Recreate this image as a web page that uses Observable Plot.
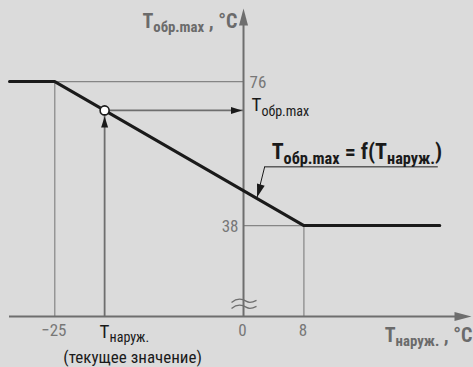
<!DOCTYPE html>
<html>
<head>
<meta charset="utf-8">
<script src="https://cdn.jsdelivr.net/npm/d3@7"></script>
<script src="https://cdn.jsdelivr.net/npm/@observablehq/plot@0.6"></script>
<style>
  html, body { margin: 0; padding: 0; background: #dbdbdb; }
  #chart svg { display: block; }
</style>
</head>
<body>
<div id="chart"></div>
<script>
// Heating characteristic: max return temperature as a function of outdoor temperature
const outdoorTemp = [-31, -25, 8, 26];   // °C, breakpoints of the curve
const returnMaxTemp = [76, 76, 38, 38];  // °C
const xTickValues = [-25, 0, 8];
const yTickValues = [76, 38];
const currentOutdoor = -18.4;            // current outdoor temperature
const currentReturn = 68.4;              // resulting max return temperature
const formulaAnchor = {x: 2.8, y: 53.5, x2: 25.8};
const formulaTarget = {x: 1.8, y: 45.5};
const axisBreakAt = 17.2;

const xLo = -31, xHi = 30.2, yLo = 14, yHi = 95.3;
const font = "'Liberation Sans Narrow', 'Arial Narrow', 'Roboto Condensed', 'DejaVu Sans Condensed', sans-serif";
const axisGray = "#6e6e6e";
const guideGray = "#858585";
const ink = "#1a1a1a";

const curve = outdoorTemp.map((x, i) => ({x, y: returnMaxTemp[i]}));
const corners = curve.slice(1, 3);

// filled arrowhead, tip at origin, pointing along angle (deg, clockwise from up)
function arrowHead(len, wid, angle) {
  const a = angle * Math.PI / 180;
  const dx = Math.sin(a), dy = -Math.cos(a);
  const px = Math.cos(a), py = Math.sin(a);
  return {
    draw(ctx) {
      ctx.moveTo(0, 0);
      ctx.lineTo(-len * dx + wid / 2 * px, -len * dy + wid / 2 * py);
      ctx.lineTo(-len * dx - wid / 2 * px, -len * dy - wid / 2 * py);
      ctx.closePath();
    }
  };
}

// two wavy strokes marking the broken vertical axis
const breakSymbol = {
  draw(ctx) {
    for (const o of [-3, 3]) {
      ctx.moveTo(-12, o + 1);
      ctx.bezierCurveTo(-6, o - 4, 0, o - 2, 3, o);
      ctx.bezierCurveTo(6, o + 2, 9, o + 1, 13, o - 1);
    }
  }
};

const fmtTick = d => d < 0 ? `\u2212${-d}` : `${d}`;

const plot = Plot.plot({
  width: 473,
  height: 367,
  marginLeft: 9,
  marginRight: 2,
  marginTop: 8,
  marginBottom: 51,
  x: {domain: [xLo, xHi], axis: null},
  y: {domain: [yLo, yHi], axis: null},
  style: {background: "#dbdbdb", fontFamily: font, overflow: "visible"},
  marks: [
    // guide lines to the curve breakpoints
    Plot.ruleY(corners, {y: "y", x1: "x", x2: 0, stroke: guideGray, strokeWidth: 1.2}),
    Plot.ruleX(corners, {x: "x", y1: yLo, y2: "y", stroke: guideGray, strokeWidth: 1.2}),
    // axes
    Plot.ruleY([yLo], {x1: xLo, x2: xHi - 1, stroke: axisGray, strokeWidth: 2}),
    Plot.ruleX([0], {y1: yLo, y2: yHi - 3, stroke: axisGray, strokeWidth: 2}),
    Plot.dot([[xHi, yLo]], {x: d => d[0], y: d => d[1], symbol: arrowHead(17, 9, 90), fill: axisGray, stroke: "none"}),
    Plot.dot([[0, yHi]], {x: d => d[0], y: d => d[1], symbol: arrowHead(17, 9, 0), fill: axisGray, stroke: "none"}),
    Plot.dot([[0, axisBreakAt]], {x: d => d[0], y: d => d[1], symbol: breakSymbol, fill: "none", stroke: axisGray, strokeWidth: 1.3}),
    // current value arrows
    Plot.ruleX([currentOutdoor], {y1: yLo, y2: currentReturn, stroke: axisGray, strokeWidth: 1.8}),
    Plot.ruleY([currentReturn], {x1: currentOutdoor, x2: 0, stroke: axisGray, strokeWidth: 1.8}),
    Plot.dot([[currentOutdoor, currentReturn]], {x: d => d[0], y: d => d[1], dy: 6, symbol: arrowHead(11, 7, 0), fill: ink, stroke: "none"}),
    Plot.dot([[0, currentReturn]], {x: d => d[0], y: d => d[1], dx: -1.5, symbol: arrowHead(11, 7, 90), fill: ink, stroke: "none"}),
    // the characteristic
    Plot.line(curve, {x: "x", y: "y", stroke: ink, strokeWidth: 3}),
    Plot.dot([[currentOutdoor, currentReturn]], {x: d => d[0], y: d => d[1], r: 4.5, fill: "white", stroke: ink, strokeWidth: 1.6}),
    // formula callout
    Plot.ruleY([formulaAnchor], {y: "y", x1: "x", x2: "x2", stroke: ink, strokeWidth: 1}),
    Plot.link([formulaAnchor], {x1: "x", y1: "y", x2: () => formulaTarget.x, y2: () => formulaTarget.y, stroke: ink, strokeWidth: 1}),
    Plot.dot([formulaTarget], {x: "x", y: "y", symbol: arrowHead(13, 8, 196.7), fill: ink, stroke: "none"}),
    Plot.text([formulaAnchor], {x: "x", y: "y", text: () => "T_{обр.max} = f(T_{наруж.})", textAnchor: "start", lineAnchor: "bottom", dx: 7, dy: -8, fontSize: 22, fontWeight: "bold", fill: ink}),
    // tick labels
    Plot.text(xTickValues, {x: d => d, text: fmtTick, frameAnchor: "bottom", lineAnchor: "bottom", textAnchor: "middle", dy: 19, dx: -1, fontSize: 17, fill: "#777"}),
    Plot.text(yTickValues.filter(d => d === 76), {x: 0, y: d => d, text: fmtTick, textAnchor: "start", lineAnchor: "bottom", dx: 6, dy: 6, fontSize: 17, fill: "#777"}),
    Plot.text(yTickValues.filter(d => d === 38), {x: 0, y: d => d, text: fmtTick, textAnchor: "end", lineAnchor: "bottom", dx: -5, dy: 6, fontSize: 17, fill: "#777"}),
    // axis titles
    Plot.text(["T_{обр.max} , °C"], {x: 0, frameAnchor: "top", textAnchor: "end", lineAnchor: "bottom", dx: -6, dy: 19, fontSize: 20, fontWeight: "bold", fill: "#6b6b6b"}),
    Plot.text(["T_{наруж.} , °C"], {frameAnchor: "bottom-right", textAnchor: "end", lineAnchor: "bottom", dx: 1, dy: 25, fontSize: 20, fontWeight: "bold", fill: "#6b6b6b"}),
    // current value labels
    Plot.text(["T_{обр.max}"], {x: 0, y: currentReturn, textAnchor: "start", lineAnchor: "bottom", dx: 8, dy: 1, fontSize: 19, fill: ink}),
    Plot.text(["T_{наруж.}"], {x: currentOutdoor, frameAnchor: "bottom", textAnchor: "start", lineAnchor: "bottom", dx: -5, dy: 21, fontSize: 19, fill: ink}),
    Plot.text(["(текущее значение)"], {x: currentOutdoor, frameAnchor: "bottom", textAnchor: "middle", lineAnchor: "bottom", dx: 28, dy: 46, fontSize: 17, fill: ink})
  ]
});

// turn "_{...}" markup into lowered, smaller tspans
function applySubscripts(svg, ratio = 0.74, shift = 0.33) {
  d3.select(svg).selectAll("text").each(function () {
    const s = this.textContent;
    if (!s.includes("_{")) return;
    const parts = s.split(/(_\{[^}]*\})/).filter(Boolean);
    this.textContent = "";
    let lowered = false;
    for (const p of parts) {
      const t = d3.select(this).append("tspan");
      if (p.startsWith("_{")) {
        t.text(p.slice(2, -1)).attr("font-size", `${ratio * 100}%`);
        if (!lowered) t.attr("dy", `${shift}em`);
        lowered = true;
      } else {
        t.text(p);
        if (lowered) t.attr("dy", `${-shift * ratio}em`);
        lowered = false;
      }
    }
  });
}
applySubscripts(plot);

document.getElementById("chart").append(plot);
</script>
</body>
</html>
